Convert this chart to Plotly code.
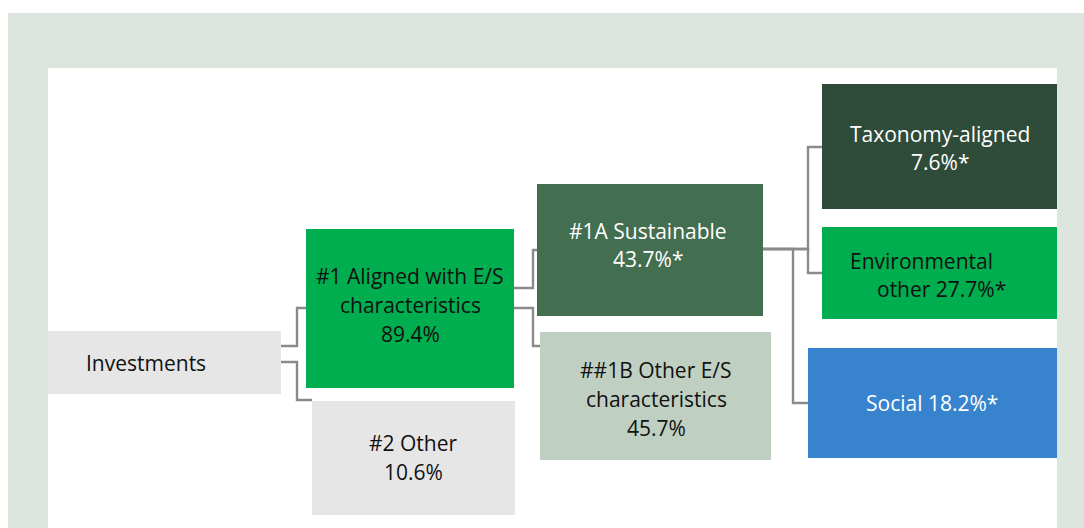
import plotly.graph_objects as go

# ---- data ----
node_ids = ["inv", "n1", "n2", "n1a", "n1b", "tax", "env", "soc"]
node_text = [
    ["Investments"],
    ["#1 Aligned with E/S", "characteristics", "{v}"],
    ["#2 Other", "{v}"],
    ["#1A Sustainable", "{v}"],
    ["##1B Other E/S", "characteristics", "{v}"],
    ["Taxonomy-aligned", "{v}"],
    ["Environmental", "other {v}"],
    ["Social {v}"],
]
node_values = [None, 89.4, 10.6, 43.7, 45.7, 7.6, 27.7, 18.2]
node_star = [False, False, False, True, False, True, True, True]
edges = [("inv", "n1"), ("inv", "n2"), ("n1", "n1a"), ("n1", "n1b"),
         ("n1a", "tax"), ("n1a", "env"), ("n1a", "soc")]

# ---- layout / style (pixel coordinates on a 1084x528 canvas) ----
W, H = 1084, 528
box = {  # x0, x1, y0, y1
    "inv": (48, 281, 331, 394),
    "n1": (306, 514, 229, 388),
    "n2": (312, 515, 401, 515),
    "n1a": (537, 763, 184, 316),
    "n1b": (540, 771, 332, 460),
    "tax": (822, 1057, 84, 209),
    "env": (822, 1057, 227, 319),
    "soc": (808, 1057, 348, 458),
}
fill = {
    "inv": "#E6E6E6", "n1": "#00AE4F", "n2": "#E6E6E6", "n1a": "#436E50",
    "n1b": "#BFD0C2", "tax": "#2F4B3A", "env": "#00AE4F", "soc": "#3783CD",
}
txtcol = {
    "inv": "#111111", "n1": "#111111", "n2": "#111111", "n1a": "#FFFFFF",
    "n1b": "#111111", "tax": "#FFFFFF", "env": "#111111", "soc": "#FFFFFF",
}
# text placement: list of (x, y, xanchor) per line
text_pos = {
    "inv": [(84, 363, "left")],
    "n1": [(410, 276, "center"), (410, 305, "center"), (410, 334, "center")],
    "n2": [(413, 443, "center"), (413, 472, "center")],
    "n1a": [(648, 231, "center"), (648, 259, "center")],
    "n1b": [(656, 370, "center"), (656, 399, "center"), (656, 428, "center")],
    "tax": [(940, 134, "center"), (940, 162, "center")],
    "env": [(848, 261, "left"), (875, 289, "left")],
    "soc": [(932, 403, "center")],
}
# connector routes (elbow points) per edge
routes = {
    ("inv", "n1"): [(281, 346), (297, 346), (297, 308), (306, 308)],
    ("inv", "n2"): [(281, 362), (297, 362), (297, 400), (312, 400)],
    ("n1", "n1a"): [(514, 288), (533, 288), (533, 250), (537, 250)],
    ("n1", "n1b"): [(514, 308), (533, 308), (533, 346), (540, 346)],
    ("n1a", "tax"): [(763, 249), (808, 249), (808, 147), (822, 147)],
    ("n1a", "env"): [(763, 249), (808, 249), (808, 273), (822, 273)],
    ("n1a", "soc"): [(763, 249), (793, 249), (793, 403), (808, 403)],
}
FONT = "Open Sans, Noto Sans, sans-serif"
FS = 21

fig = go.Figure()
fig.add_trace(go.Scatter(x=[0, W], y=[0, H], mode="markers",
                         marker=dict(opacity=0), hoverinfo="skip", showlegend=False))

shapes = []
# backgrounds
shapes.append(dict(type="rect", xref="x", yref="y", x0=8, x1=W, y0=13, y1=H,
                   fillcolor="#DCE6DE", line=dict(width=0), layer="below"))
shapes.append(dict(type="rect", xref="x", yref="y", x0=48, x1=1057, y0=68, y1=H,
                   fillcolor="#FFFFFF", line=dict(width=0), layer="below"))
# connectors
for e in edges:
    pts = routes[e]
    path = "M " + " L ".join(f"{px},{py}" for px, py in pts)
    shapes.append(dict(type="path", xref="x", yref="y", path=path,
                       line=dict(color="#8A8A8A", width=2.4)))
# boxes
for nid in node_ids:
    x0, x1, y0, y1 = box[nid]
    shapes.append(dict(type="rect", xref="x", yref="y", x0=x0, x1=x1, y0=y0, y1=y1,
                       fillcolor=fill[nid], line=dict(width=0)))

annotations = []
for nid, lines, v, star in zip(node_ids, node_text, node_values, node_star):
    vs = "" if v is None else f"{v:.1f}%" + ("*" if star else "")
    for line, (tx, ty, xa) in zip(lines, text_pos[nid]):
        annotations.append(dict(x=tx, y=ty, xref="x", yref="y", text=line.replace("{v}", vs),
                                showarrow=False, xanchor=xa, yanchor="middle",
                                font=dict(family=FONT, size=FS, color=txtcol[nid])))

fig.update_layout(
    width=W, height=H, margin=dict(l=0, r=0, t=0, b=0),
    paper_bgcolor="#FFFFFF", plot_bgcolor="#FFFFFF",
    xaxis=dict(range=[0, W], visible=False, fixedrange=True),
    yaxis=dict(range=[H, 0], visible=False, fixedrange=True),
    shapes=shapes, annotations=annotations, showlegend=False,
)
fig.write_html("out.html", config={"displayModeBar": False},
               post_script="document.body.style.margin='0';document.body.style.overflow='hidden';")
